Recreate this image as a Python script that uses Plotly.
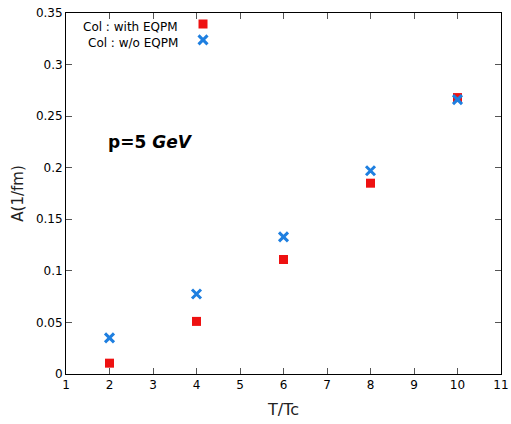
import plotly.graph_objects as go

t_tc = [2, 4, 6, 8, 10]
a_with = [0.0105, 0.051, 0.111, 0.185, 0.268]
a_without = [0.035, 0.0775, 0.133, 0.197, 0.266]
x_ticks = list(range(1, 12))
y_ticks = [0, 0.05, 0.1, 0.15, 0.2, 0.25, 0.3, 0.35]
y_ticklabels = ["0", "0.05", "0.1", "0.15", "0.2", "0.25", "0.3", "0.35"]
labels = ["Col : with EQPM", "Col : w/o EQPM"]

font_main = "DejaVu Sans"

fig = go.Figure()
fig.add_trace(go.Scatter(x=t_tc, y=a_with, mode="markers", name=" ", legend="legend",
                         showlegend=True,
                         marker=dict(symbol="square", size=9, color="#ee1111")))
fig.add_trace(go.Scatter(x=t_tc, y=a_without, mode="markers", name=" ", legend="legend2",
                         showlegend=True,
                         marker=dict(symbol="x-thin", size=9, color="#1e7fe0",
                                     line=dict(width=3, color="#1e7fe0"))))

axis_common = dict(showline=True, linecolor="black", linewidth=1, mirror="ticks",
                   ticks="inside", ticklen=6, tickcolor="#555555", showgrid=False,
                   zeroline=False, automargin=False,
                   tickfont=dict(family=font_main, size=12, color="black"))

fig.update_xaxes(range=[1, 11], tickvals=x_ticks,
                 title=dict(text="T/Tc", font=dict(family=font_main, size=16, color="#222"), standoff=12),
                 **axis_common)
fig.update_yaxes(range=[0, 0.35], tickvals=y_ticks, ticktext=y_ticklabels,
                 title=dict(text="A(1/fm)", font=dict(family=font_main, size=15, color="#222"), standoff=8),
                 **axis_common)

fig.add_annotation(x=0.261, y=0.962, xref="paper", yref="paper", text=labels[0],
                   showarrow=False, xanchor="right", yanchor="middle",
                   font=dict(family=font_main, size=12, color="black"))
fig.add_annotation(x=0.261, y=0.918, xref="paper", yref="paper", text=labels[1],
                   showarrow=False, xanchor="right", yanchor="middle",
                   font=dict(family=font_main, size=12, color="black"))
fig.add_annotation(x=0.093, y=0.642, xref="paper", yref="paper",
                   text="<b>p=5 <i>GeV</i></b>",
                   showarrow=False, xanchor="left", yanchor="middle",
                   font=dict(family=font_main, size=17, color="black"))

leg_common = dict(xanchor="left", yanchor="middle", bgcolor="rgba(0,0,0,0)",
                  font=dict(family=font_main, size=10), itemwidth=30)
fig.update_layout(
    width=511, height=424,
    margin=dict(l=66, r=10, t=12, b=50),
    plot_bgcolor="white", paper_bgcolor="white",
    showlegend=True,
    legend=dict(x=0.269, y=0.967, **leg_common),
    legend2=dict(x=0.269, y=0.923, **leg_common),
)

fig.write_html("out.html")
